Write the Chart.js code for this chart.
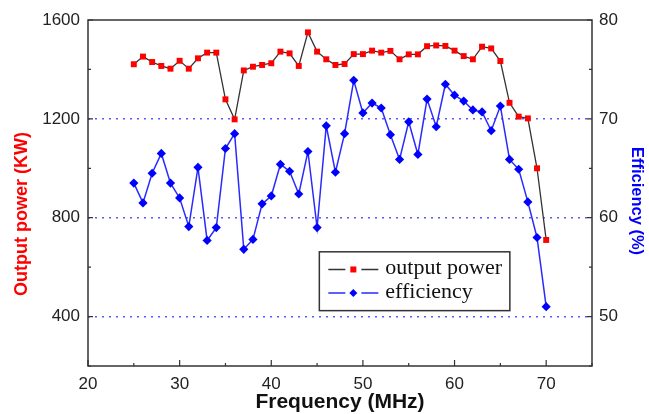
<!DOCTYPE html>
<html>
<head>
<meta charset="utf-8">
<script src="https://cdn.jsdelivr.net/npm/chart.js@4/dist/chart.umd.min.js"></script>
<style>
  html, body { margin: 0; padding: 0; background: #fff; }
  #wrap { width: 649px; height: 414px; }
</style>
</head>
<body>
<div id="wrap"><canvas id="powerChart"></canvas></div>
<script>
// frequency sweep (MHz)
const freqs = [25, 26, 27, 28, 29, 30, 31, 32, 33, 34, 35, 36, 37, 38, 39, 40,
               41, 42, 43, 44, 45, 46, 47, 48, 49, 50, 51, 52, 53, 54, 55, 56,
               57, 58, 59, 60, 61, 62, 63, 64, 65, 66, 67, 68, 69, 70];

// output power (KW)
const outputPower = [1421, 1452, 1430, 1414, 1403, 1435, 1403, 1445, 1468, 1468, 1279, 1198,
                     1396, 1411, 1418, 1425, 1472, 1465, 1414, 1550, 1472, 1441, 1418, 1422,
                     1462, 1462, 1476, 1468, 1475, 1441, 1461, 1461, 1494, 1497, 1495, 1476,
                     1454, 1441, 1492, 1485, 1434, 1265, 1209, 1202, 1000, 710];

// efficiency (%)
const efficiency = [63.5, 61.5, 64.5, 66.5, 63.5, 62.0, 59.1, 65.1, 57.7, 59.0, 67.0, 68.5,
                    56.8, 57.8, 61.4, 62.2, 65.4, 64.7, 62.4, 66.7, 59.0, 69.3, 64.6, 68.5,
                    73.9, 70.6, 71.6, 71.1, 68.4, 65.9, 69.7, 66.4, 72.0, 69.2, 73.5, 72.4,
                    71.8, 70.9, 70.7, 68.8, 71.3, 65.9, 64.9, 61.6, 58.0, 51.0];

const powerLabels = [400, 800, 1200, 1600];
const effLabels = [50, 60, 70, 80];
const freqLabels = [20, 30, 40, 50, 60, 70];

const gridValues = [400, 800, 1200];

const sans = 'Liberation Sans, Arial, sans-serif';
const tickFont = { family: sans, size: 17 };
const tickColor = '#222';

// box around the plot, inward tick marks and the two side titles
const frameAndTicks = {
    id: 'frameAndTicks',
    afterDatasetsDraw(chart) {
        const { ctx, chartArea: a, scales } = chart;
        ctx.save();
        ctx.strokeStyle = '#333';
        ctx.lineWidth = 1.5;
        ctx.strokeRect(a.left, a.top, a.right - a.left, a.bottom - a.top);

        ctx.lineWidth = 1.2;
        ctx.beginPath();
        scales.x.ticks.forEach(t => {
            const px = scales.x.getPixelForValue(t.value);
            const len = t.value % 10 === 0 ? 6 : 3;
            ctx.moveTo(px, a.bottom);
            ctx.lineTo(px, a.bottom - len);
        });
        scales.yPower.ticks.forEach(t => {
            const py = scales.yPower.getPixelForValue(t.value);
            const len = t.value % 400 === 0 ? 5 : 3;
            ctx.moveTo(a.left, py);
            ctx.lineTo(a.left + len, py);
        });
        scales.yEff.ticks.forEach(t => {
            const py = scales.yEff.getPixelForValue(t.value);
            const len = t.value % 10 === 0 ? 5 : 3;
            ctx.moveTo(a.right, py);
            ctx.lineTo(a.right - len, py);
        });
        ctx.stroke();

        // side titles sit a little below the middle of the axes
        const midY = (a.top + a.bottom) / 2;
        ctx.textAlign = 'center';
        ctx.textBaseline = 'middle';

        ctx.save();
        ctx.translate(scales.yPower.left + 22, midY + 21);
        ctx.rotate(-Math.PI / 2);
        ctx.fillStyle = '#ff0000';
        ctx.font = 'bold 18px ' + sans;
        ctx.fillText('Output power (KW)', 0, 0);
        ctx.restore();

        ctx.save();
        ctx.translate(scales.yEff.right - 12, midY + 8);
        ctx.rotate(Math.PI / 2);
        ctx.fillStyle = '#0000ff';
        ctx.font = 'bold 16.5px ' + sans;
        ctx.fillText('Efficiency (%)', 0, 0);
        ctx.restore();

        ctx.restore();
    }
};

// legend box inside the plot, lower right
const boxLegend = {
    id: 'boxLegend',
    afterDraw(chart) {
        const { ctx, chartArea: a } = chart;
        const left = a.left + (a.right - a.left) * 0.459;
        const right = a.left + (a.right - a.left) * 0.837;
        const top = a.top + (a.bottom - a.top) * 0.67;
        const bottom = a.top + (a.bottom - a.top) * 0.84;
        ctx.save();
        ctx.fillStyle = '#fff';
        ctx.fillRect(left, top, right - left, bottom - top);
        ctx.strokeStyle = '#333';
        ctx.lineWidth = 1.5;
        ctx.strokeRect(left, top, right - left, bottom - top);

        const rowH = (bottom - top) / 2.5;
        chart.data.datasets.forEach((ds, i) => {
            const cy = top + rowH * (0.75 + i);
            const x0 = left + 9;
            const x1 = x0 + 50;
            const mid = (x0 + x1) / 2;
            ctx.strokeStyle = ds.borderColor;
            ctx.lineWidth = 1.5;
            ctx.beginPath();
            ctx.moveTo(x0, cy); ctx.lineTo(mid - 8, cy);
            ctx.moveTo(mid + 8, cy); ctx.lineTo(x1, cy);
            ctx.stroke();
            ctx.fillStyle = ds.pointBackgroundColor;
            if (ds.pointStyle === 'rect') {
                ctx.fillRect(mid - 3, cy - 3, 6, 6);
            } else {
                ctx.beginPath();
                ctx.moveTo(mid, cy - 4); ctx.lineTo(mid + 4, cy);
                ctx.lineTo(mid, cy + 4); ctx.lineTo(mid - 4, cy);
                ctx.closePath(); ctx.fill();
            }
            ctx.fillStyle = '#111';
            ctx.font = '22px "Liberation Serif", "Times New Roman", serif';
            ctx.textBaseline = 'middle';
            ctx.fillText(ds.label, x1 + 7, cy - 1);
        });
        ctx.restore();
    }
};

new Chart(document.getElementById('powerChart'), {
    type: 'line',
    data: {
        datasets: [
            {
                label: 'output power',
                data: freqs.map((f, i) => ({ x: f, y: outputPower[i] })),
                yAxisID: 'yPower',
                borderColor: '#333',
                borderWidth: 1.3,
                pointStyle: 'rect',
                pointRadius: 4.2,
                pointBackgroundColor: '#ff0000',
                pointBorderColor: '#ff0000',
                pointBorderWidth: 0,
                tension: 0
            },
            {
                label: 'efficiency',
                data: freqs.map((f, i) => ({ x: f, y: efficiency[i] })),
                yAxisID: 'yEff',
                borderColor: '#2a2aff',
                borderWidth: 1.5,
                pointStyle: 'rectRot',
                pointRadius: 4.6,
                pointBackgroundColor: '#0000ff',
                pointBorderColor: '#0000ff',
                pointBorderWidth: 0,
                tension: 0
            }
        ]
    },
    options: {
        responsive: true,
        maintainAspectRatio: false,
        animation: false,
        layout: { padding: { top: 20, left: 0, right: 0, bottom: 0 } },
        plugins: {
            legend: { display: false },
            tooltip: { enabled: false }
        },
        scales: {
            x: {
                type: 'linear',
                min: 20,
                max: 75,
                afterFit: s => { s.height = 48; },
                border: { display: false },
                grid: { display: false, drawTicks: false },
                ticks: {
                    stepSize: 5,
                    padding: 8,
                    maxRotation: 0,
                    font: tickFont,
                    color: tickColor,
                    callback: v => freqLabels.includes(v) ? String(v) : ''
                },
                title: {
                    display: true,
                    text: 'Frequency (MHz)',
                    color: '#111',
                    font: { family: sans, size: 21, weight: 'bold' },
                    padding: { top: 0, bottom: -1 }
                }
            },
            yPower: {
                position: 'left',
                min: 200,
                max: 1600,
                afterFit: s => { s.width = 88; },
                grid: {
                    drawTicks: false,
                    lineWidth: 1.5,
                    color: c => gridValues.includes(c.tick.value) ? '#5a5aff' : 'rgba(0,0,0,0)'
                },
                border: { display: false, dash: [2, 5] },
                ticks: {
                    stepSize: 200,
                    padding: 8,
                    font: tickFont,
                    color: tickColor,
                    callback: v => powerLabels.includes(v) ? String(v) : ''
                }
            },
            yEff: {
                position: 'right',
                min: 45,
                max: 80,
                afterFit: s => { s.width = 57; },
                border: { display: false },
                grid: { display: false, drawTicks: false },
                ticks: {
                    stepSize: 5,
                    padding: 7,
                    font: tickFont,
                    color: tickColor,
                    callback: v => effLabels.includes(v) ? String(v) : ''
                }
            }
        }
    },
    plugins: [frameAndTicks, boxLegend]
});
</script>
</body>
</html>
